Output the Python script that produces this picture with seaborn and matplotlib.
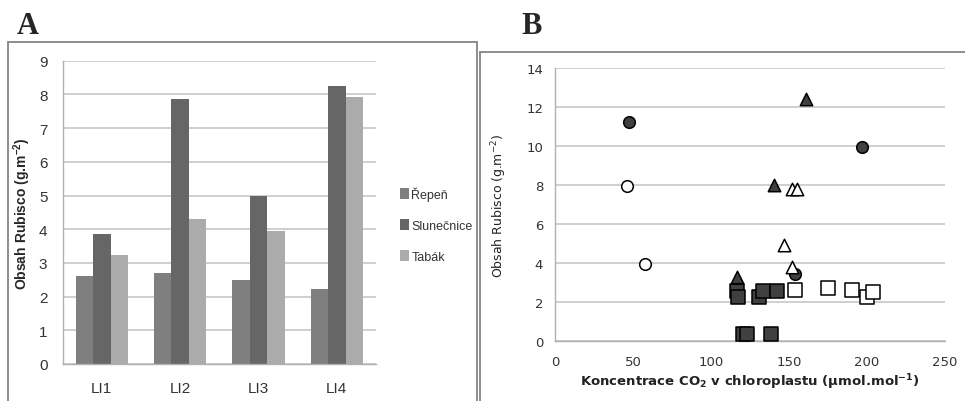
import pandas as pd
import numpy as np
import matplotlib
matplotlib.use('Agg')
import matplotlib.pyplot as plt
from matplotlib.lines import Line2D
import seaborn as sns

# panel A data
light_levels = ['LI1', 'LI2', 'LI3', 'LI4']
plants = ['Řepeň', 'Slunečnice', 'Tabák']
repen = [2.60, 2.69, 2.48, 2.22]
slunecnice = [3.86, 7.86, 5.00, 8.25]
tabak = [3.24, 4.30, 3.95, 7.92]
bar_colors = ['#7f7f7f', '#666666', '#ababab']

# panel B data
circ_full_x = [47.6, 197, 154]
circ_full_y = [11.22, 9.94, 3.43]
circ_open_x = [46, 58]
circ_open_y = [7.95, 3.92]
tri_full_x = [160.7, 140.4, 116.5]
tri_full_y = [12.4, 8.0, 3.25]
tri_open_x = [151.7, 154.9, 146.8, 151.7]
tri_open_y = [7.8, 7.8, 4.92, 3.8]
sq_full_x = [116.9, 117.3, 130.6, 133.5, 142.5, 120.7, 122.9, 138.5]
sq_full_y = [2.54, 2.23, 2.23, 2.54, 2.54, 0.36, 0.36, 0.36]
sq_open_x = [153.8, 174.8, 190.6, 199.8, 203.7]
sq_open_y = [2.62, 2.71, 2.62, 2.23, 2.50]

sns.set_style('white')
narrow = ['Liberation Sans', 'DejaVu Sans']
plt.rcParams['font.family'] = ['DejaVu Sans']
plt.rcParams['mathtext.default'] = 'regular'

fig = plt.figure(figsize=(9.65, 4.02), dpi=100)
W, H = 965.0, 402.0

def fx(px):
    return px / W

def fy(py):
    return 1 - py / H

# panel frames
fig.add_artist(plt.Rectangle((fx(8), fy(410)), fx(476.5) - fx(8), fy(43) - fy(410),
                             transform=fig.transFigure, fill=False, ec='#858585', lw=1.3))
fig.add_artist(Line2D([fx(479.5), fx(966)], [fy(53), fy(53)], transform=fig.transFigure,
                      color='#858585', lw=1.3))
fig.add_artist(Line2D([fx(479.5), fx(479.5)], [fy(53), fy(410)], transform=fig.transFigure,
                      color='#858585', lw=1.3))

fig.text(fx(17), fy(34), 'A', family='Liberation Serif', weight='bold', fontsize=22, va='baseline')
fig.text(fx(521), fy(34), 'B', family='Liberation Serif', weight='bold', fontsize=22, va='baseline')

# ---- panel A
axA = fig.add_axes([fx(62.7), fy(365), fx(376) - fx(62.7), fy(61.7) - fy(365)])
df = pd.DataFrame({'level': light_levels * 3,
                   'plant': [p for p in plants for _ in light_levels],
                   'val': repen + slunecnice + tabak})
sns.barplot(data=df, x='level', y='val', hue='plant', palette=bar_colors, width=2 / 3,
            saturation=1, linewidth=0, ax=axA)
axA.set_ylim(0, 9)
axA.set_xlim(-0.5, 3.5)
axA.set_yticks(range(0, 10))
axA.grid(axis='y', color='#c2c2c2', lw=1.1)
axA.set_axisbelow(True)
for s in ['top', 'right']:
    axA.spines[s].set_visible(False)
for s in ['left', 'bottom']:
    axA.spines[s].set_color('#b0b0b0')
    axA.spines[s].set_linewidth(1.0)
axA.set_xticks([-0.5, 0.5, 1.5, 2.5, 3.5], minor=True)
axA.tick_params(axis='x', which='major', length=0, pad=12)
axA.tick_params(axis='x', which='minor', length=5, color='#b0b0b0', direction='out')
axA.tick_params(axis='y', length=4, color='#b0b0b0', direction='out', pad=7)
for lab in axA.get_xticklabels() + axA.get_yticklabels():
    lab.set_family(narrow)
    lab.set_fontsize(11)
    lab.set_color('#333333')
axA.set_xlabel('')
axA.set_ylabel('Obsah Rubisco (g.m$^{-2}$)', fontsize=10, weight='bold', family=narrow)
axA.yaxis.set_label_coords(-0.095, 0.5)
axA.legend(loc='upper left', bbox_to_anchor=(fx(394), fy(181)), bbox_transform=fig.transFigure,
           frameon=False, handlelength=0.7, handleheight=1.0, handletextpad=0.2,
           labelspacing=1.45, borderpad=0, prop={'family': narrow, 'size': 9})
for t in axA.get_legend().get_texts():
    t.set_color('#333333')

# ---- panel B
axB = fig.add_axes([fx(555), fy(341.7), fx(945) - fx(555), fy(69.3) - fy(341.7)])
groups = [
    (sq_full_x, sq_full_y, 's', '#404040', 90),
    (sq_open_x, sq_open_y, 's', 'white', 90),
    (circ_full_x, circ_full_y, 'o', '#404040', 70),
    (circ_open_x, circ_open_y, 'o', 'white', 70),
    (tri_full_x, tri_full_y, '^', '#404040', 80),
    (tri_open_x, tri_open_y, '^', 'white', 80),
]
for gx, gy, m, c, sz in groups:
    sns.scatterplot(x=gx, y=gy, marker=m, color=c, edgecolor='black', linewidth=1.1,
                    s=sz, ax=axB, zorder=3)
axB.set_xlim(0, 250)
axB.set_ylim(0, 14)
axB.set_xticks(range(0, 251, 50))
axB.set_yticks(range(0, 15, 2))
axB.grid(axis='y', color='#c2c2c2', lw=1.1)
axB.set_axisbelow(True)
for s in ['top', 'right']:
    axB.spines[s].set_visible(False)
for s in ['left', 'bottom']:
    axB.spines[s].set_color('#b0b0b0')
    axB.spines[s].set_linewidth(1.0)
axB.tick_params(axis='both', length=5, color='#b0b0b0', direction='out', labelsize=9.5,
                labelcolor='#333333')
axB.tick_params(axis='x', pad=5)
axB.set_ylabel('Obsah Rubisco (g.m$^{-2}$)', fontsize=9, color='#222222')
axB.yaxis.set_label_coords(-0.118, 0.5)
axB.set_xlabel('Koncentrace CO$_2$ v chloroplastu (µmol.mol$^{-1}$)', fontsize=9.5,
               weight='bold', color='#222222', va='center')
axB.xaxis.set_label_coords(0.5, -0.148)

fig.savefig('out.png', dpi=100)
